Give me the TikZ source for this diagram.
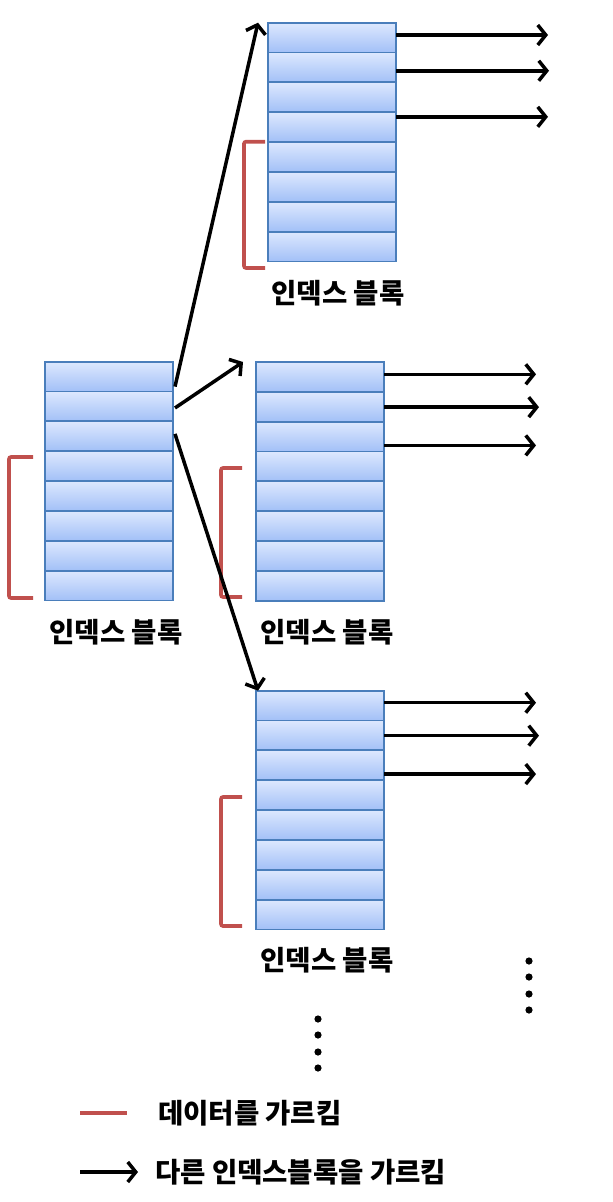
\documentclass[tikz,border=0pt]{standalone}
\usepackage{fontspec}
\newfontfamily\kor{Noto Sans CJK KR}
\usetikzlibrary{arrows.meta, positioning}

\definecolor{celltop}{HTML}{DDE8FE}
\definecolor{cellbot}{HTML}{A2C0F7}
\definecolor{cellline}{HTML}{4A7EBB}
\definecolor{brkred}{HTML}{C0504D}

\tikzset{
    cell/.style={draw=cellline, line width=1.8pt, top color=celltop, bottom color=cellbot,
        minimum width=128pt, minimum height=29.85pt, inner sep=0pt, outer sep=0pt},
    ptr/.style={-{Straight Barb[length=8pt, width=20pt, line width=3.5pt]}, line width=3.5pt},
    brk/.style={brkred, line width=3.6pt, rounded corners=2pt},
    lbl/.style={font=\kor\bfseries\fontsize{27.5}{30}\selectfont, inner sep=0pt}
}

\begin{document}
\begin{tikzpicture}[x=1pt, y=1pt]
    \useasboundingbox (0,0) rectangle (613,-1202);
    % index blocks, 8 entries each
    \node[cell] (A1) at (332,-37.6) {};
    \node[cell] (B1) at (109,-376.6) {};
    \node[cell] (C1) at (320,-376.9) {};
    \node[cell] (D1) at (320,-705.6) {};
    \foreach \b in {A,B,C,D}
        \foreach \i [count=\j from 2] in {1,...,7}
            \node[cell, below=0pt of \b\i] (\b\j) {};
    % labels
    \node[lbl] (Alabel) at (338,-293) {인덱스 블록};
    \node[lbl] (Blabel) at (116,-632) {인덱스 블록};
    \node[lbl] (Clabel) at (327,-632) {인덱스 블록};
    \node[lbl] (Dlabel) at (327,-960) {인덱스 블록};
    % data brackets
    \draw[brk] (265,-141.7) -- (244,-141.7) -- (244,-268) -- (265,-268);
    \draw[brk] (33,-457) -- (9,-457) -- (9,-598) -- (33,-598);
    \draw[brk] (242,-468) -- (221,-468) -- (221,-597) -- (242,-597);
    \draw[brk] (242,-797) -- (221,-797) -- (221,-926) -- (242,-926);
    % pointers to other index blocks
    \draw[ptr] ([shift={(2pt,-10pt)}]B1.east) -- ([xshift=-10pt]A1.north west);
    \draw[ptr] ([shift={(2pt,-1.5pt)}]B2.east) -- ([xshift=-13pt]C1.north west);
    \draw[ptr] ([shift={(2pt,2.4pt)}]B3.east) -- ([xshift=2pt]D1.north west);
    % pointers going further out
    \draw[ptr] ([yshift=2.6pt]A1.east) -- ++(152,0) coordinate (Aout1);
    \draw[ptr] ([yshift=-3.3pt]A2.east) -- ++(153,0) coordinate (Aout2);
    \draw[ptr] ([yshift=10.3pt]A4.east) -- ++(152,0) coordinate (Aout3);
    \draw[ptr] ([yshift=2.6pt]C1.east) -- ++(152,0) coordinate (Cout1);
    \draw[ptr] ([yshift=-0.4pt]C2.east) -- ++(155,0) coordinate (Cout2);
    \draw[ptr] ([yshift=-8.8pt]C3.east) -- ++(152,0) coordinate (Cout3);
    \draw[ptr] ([yshift=2.9pt]D1.east) -- ++(152,0) coordinate (Dout1);
    \draw[ptr] ([yshift=-0.2pt]D2.east) -- ++(155,0) coordinate (Dout2);
    \draw[ptr] ([yshift=-8.8pt]D3.east) -- ++(152,0) coordinate (Dout3);
    % more blocks follow
    \foreach \y in {961,977,994,1010}
        \fill (529,-\y) circle (3.6);
    \foreach \y in {1019,1035,1052,1068}
        \fill (318,-\y) circle (3.6);
    % legend
    \coordinate (redA) at (80,-1113);
    \coordinate (redB) at (127,-1113);
    \draw[brkred, line width=3.6pt] (redA) -- (redB);
    \node[lbl, anchor=west] (redtext) at (158,-1113) {데이터를 가르킴};
    \coordinate (arrA) at (80,-1172);
    \coordinate (arrB) at (138,-1172);
    \draw[ptr] (arrA) -- (arrB);
    \node[lbl, anchor=west] (arrtext) at (155,-1172) {다른 인덱스블록을 가르킴};
\end{tikzpicture}
\end{document}
